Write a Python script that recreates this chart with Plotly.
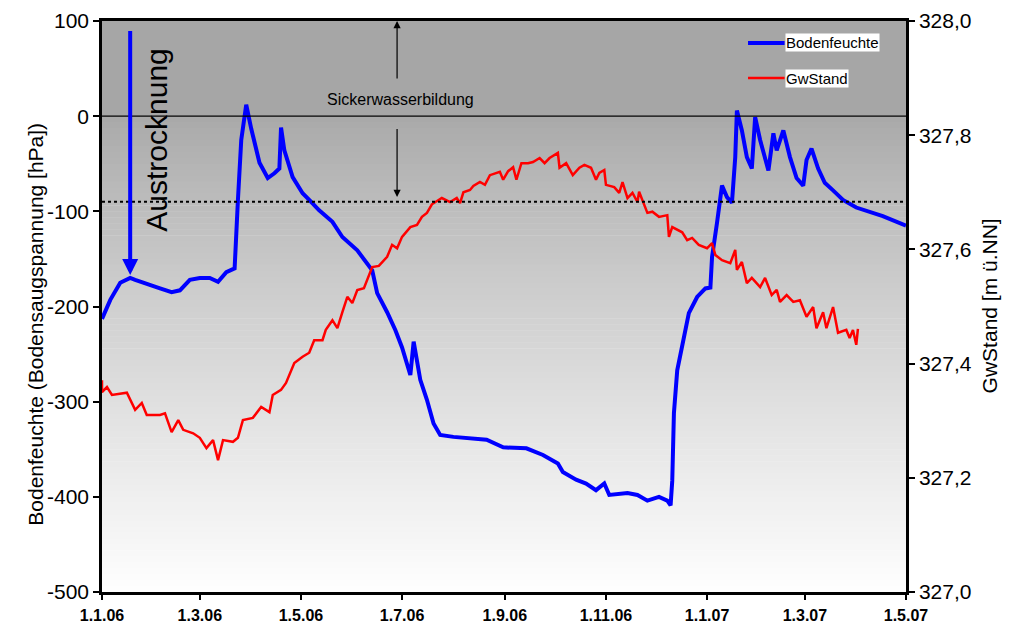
import datetime as dt
import plotly.graph_objects as go

# --- measurement series -------------------------------------------------
START = dt.date(2006, 1, 1)

# Bodenfeuchte (Bodensaugspannung, hPa) – days since 1.1.2006
boden_days = [0, 5, 11, 17, 20, 23, 29, 35, 42, 47, 53, 59, 65, 70, 75, 80, 82, 84.5,
              87.5, 90.5, 95, 100, 104, 107, 108, 110.4, 115, 121, 125.5, 131.5, 139,
              145, 154, 160.5, 163, 166.5, 172.5, 177, 181.5, 186, 188, 192, 196, 200,
              204, 212, 224, 232, 242, 248, 256, 266, 275, 278, 286.5, 292.5, 298.5,
              303.5, 306.5, 317, 323, 329, 336.5, 341.5, 343, 344.5, 345.5, 347.5,
              350.5, 354.5, 359, 364, 367, 368.5, 371.5, 374.5, 377.5, 380.5, 382.5,
              383.5, 386, 389, 392, 394, 397, 402, 405, 407, 411, 415, 419, 423, 425,
              428, 432, 436, 441, 447, 455.5, 463, 471, 485]
boden_hpa = [-213, -193, -175, -170, -172, -174, -178, -181, -185, -183, -172, -170,
             -170, -174, -164, -160, -88, -25, 12, -13, -49, -65, -60, -55, -12, -36,
             -64, -81, -88, -99, -111, -127, -141, -155, -162, -186, -206, -225, -243,
             -272, -237, -277, -298, -323, -335, -337, -339, -340, -348, -348, -349,
             -356, -365, -374, -382, -386, -393, -386, -398, -396, -398, -404, -400,
             -404, -409, -383, -312, -267, -239, -207, -190, -181, -180, -148, -112,
             -73, -85, -91, -43, 6, -15, -43, -55, -1, -25, -57, -18, -36, -15, -43,
             -65, -73, -46, -34, -55, -70, -78, -88, -96, -101, -105, -115]

# Grundwasserstand (m ü.NN) – days since 1.1.2006
gw_days = [0, 0.6, 3.6, 6.6, 15, 20, 24, 27, 35, 38, 42, 46, 49, 55, 59, 63, 67, 70,
           73, 79, 82, 85, 91, 96.5, 101, 103, 108.5, 111.5, 116.5, 121, 125.5, 128.5,
           133, 135.5, 139, 142, 145, 148.5, 151, 154.5, 158.5, 160.5, 163.5, 167.5,
           172, 175.5, 178.5, 181.5, 186, 190.5, 193, 196.5, 199.5, 205, 210, 214, 216,
           218, 222, 224, 228, 231, 234, 240, 242, 245, 248, 250, 253, 257, 260, 264,
           267, 270, 275, 276, 280.5, 284, 288, 291, 295.5, 298.5, 300.5, 303.5, 304.5,
           309.5, 312.5, 314.5, 317.5, 320.5, 323.5, 324.5, 329, 332.5, 336.5, 341,
           342.5, 344.5, 350, 353, 356.5, 360.5, 365, 368.5, 370, 374.5, 379, 382,
           383.5, 386.5, 389, 392.5, 397, 400, 404, 407, 409, 413, 417, 421, 425, 429,
           431, 435, 437, 441, 444, 449, 451, 453, 455.5, 456]
gw_stand = [327.371, 327.350, 327.359, 327.345, 327.349, 327.319, 327.331, 327.310,
            327.310, 327.313, 327.280, 327.301, 327.284, 327.278, 327.270, 327.252,
            327.266, 327.231, 327.266, 327.263, 327.270, 327.301, 327.305, 327.324,
            327.315, 327.345, 327.354, 327.366, 327.401, 327.412, 327.419, 327.441,
            327.441, 327.459, 327.476, 327.462, 327.490, 327.517, 327.506, 327.529,
            327.532, 327.546, 327.569, 327.571, 327.587, 327.608, 327.602, 327.622,
            327.639, 327.643, 327.657, 327.664, 327.679, 327.690, 327.683, 327.690,
            327.681, 327.700, 327.704, 327.711, 327.718, 327.713, 327.730, 327.736,
            327.722, 327.737, 327.744, 327.722, 327.751, 327.751, 327.753, 327.760,
            327.751, 327.760, 327.769, 327.743, 327.751, 327.730, 327.743, 327.748,
            327.743, 327.722, 327.734, 327.739, 327.713, 327.709, 327.699, 327.718,
            327.690, 327.699, 327.683, 327.701, 327.664, 327.666, 327.657, 327.660,
            327.622, 327.639, 327.630, 327.616, 327.620, 327.608, 327.602, 327.611,
            327.590, 327.581, 327.576, 327.599, 327.564, 327.578, 327.541, 327.550,
            327.534, 327.550, 327.520, 327.529, 327.508, 327.520, 327.508, 327.511,
            327.482, 327.499, 327.462, 327.490, 327.462, 327.499, 327.454, 327.459,
            327.445, 327.459, 327.433, 327.461]

# axis ticks
x_tickdates = ["2006-01-01", "2006-03-01", "2006-05-01", "2006-07-01", "2006-09-01",
               "2006-11-01", "2007-01-01", "2007-03-01", "2007-05-01"]
x_ticklabels = ["1.1.06", "1.3.06", "1.5.06", "1.7.06", "1.9.06", "1.11.06",
                "1.1.07", "1.3.07", "1.5.07"]
y_tickvals = [100, 0, -100, -200, -300, -400, -500]
y_ticklabels = ["100", "0", "-100", "-200", "-300", "-400", "-500"]
y2_tickvals = [328.0, 327.8, 327.6, 327.4, 327.2, 327.0]
y2_ticklabels = ["328,0", "327,8", "327,6", "327,4", "327,2", "327,0"]

# thresholds (hPa)
SICKER_GRENZE = 0
FELDKAPAZITAET = -90


def to_dates(days):
    return [START + dt.timedelta(days=float(d)) for d in days]


boden_x = to_dates(boden_days)
gw_x = to_dates(gw_days)

FONT = "Arial, Liberation Sans, sans-serif"

fig = go.Figure()
fig.add_trace(go.Scatter(x=boden_x, y=boden_hpa, mode="lines", name="Bodenfeuchte",
                         line=dict(color="#0000ff", width=4), yaxis="y"))
fig.add_trace(go.Scatter(x=gw_x, y=gw_stand, mode="lines", name="GwStand",
                         line=dict(color="#ff0000", width=2.5), yaxis="y2"))

# background: flat grey band above 0 hPa, grey-to-white gradient below
shapes = [dict(type="rect", xref="paper", yref="y", x0=0, x1=1, y0=0, y1=100,
               fillcolor="rgb(166,166,166)", line=dict(width=0), layer="below")]
n = 80
for i in range(n):
    top = 0 - 500 * i / n
    bot = 0 - 500 * (i + 1) / n - 0.5
    t = (i + 0.5) / n
    g = int(round(168 + (254 - 168) * t ** 0.85))
    shapes.append(dict(type="rect", xref="paper", yref="y", x0=0, x1=1, y0=max(bot, -500),
                       y1=top, fillcolor=f"rgb({g},{g},{g})", line=dict(width=0),
                       layer="below"))
# reference lines
shapes.append(dict(type="line", xref="paper", yref="y", x0=0, x1=1,
                   y0=SICKER_GRENZE, y1=SICKER_GRENZE, line=dict(color="black", width=1.2)))
shapes.append(dict(type="line", xref="paper", yref="y", x0=0, x1=1,
                   y0=FELDKAPAZITAET, y1=FELDKAPAZITAET,
                   line=dict(color="black", width=2, dash="dot")))
# legend samples
shapes.append(dict(type="line", xref="paper", yref="paper", x0=0.8035, x1=0.849,
                   y0=0.9615, y1=0.9615, line=dict(color="#0000ff", width=4)))
shapes.append(dict(type="line", xref="paper", yref="paper", x0=0.8035, x1=0.849,
                   y0=0.900, y1=0.900, line=dict(color="#ff0000", width=2.5)))

annotations = [
    dict(text="Bodenfeuchte", xref="paper", yref="paper", x=0.849, y=0.9615,
         xanchor="left", yanchor="middle", showarrow=False, bgcolor="white",
         borderpad=0, font=dict(family=FONT, size=15, color="black")),
    dict(text="GwStand", xref="paper", yref="paper", x=0.849, y=0.900,
         xanchor="left", yanchor="middle", showarrow=False, bgcolor="white",
         borderpad=0, font=dict(family=FONT, size=15, color="black")),
    dict(text="Sickerwasserbildung", xref="x", yref="y", x="2006-06-30", y=18,
         showarrow=False, font=dict(family=FONT, size=16, color="black")),
    dict(text="", xref="x", yref="y", x="2006-06-28", y=100, ax="2006-06-28", ay=38,
         axref="x", ayref="y", showarrow=True, arrowhead=2, arrowsize=1.2,
         arrowwidth=1.2, arrowcolor="black"),
    dict(text="", xref="x", yref="y", x="2006-06-28", y=-85, ax="2006-06-28", ay=-12,
         axref="x", ayref="y", showarrow=True, arrowhead=2, arrowsize=1.2,
         arrowwidth=1.2, arrowcolor="black"),
    dict(text="", xref="x", yref="y", x="2006-01-18", y=-167, ax="2006-01-18", ay=91,
         axref="x", ayref="y", showarrow=True, arrowhead=2, arrowsize=0.8,
         arrowwidth=4, arrowcolor="#0000ff"),
    dict(text="Austrocknung", xref="x", yref="y", x="2006-02-03", y=-25,
         textangle=-90, showarrow=False, font=dict(family=FONT, size=30, color="black")),
    dict(text="Bodenfeuchte (Bodensaugspannung [hPa])", xref="paper", yref="paper",
         x=-0.0995, y=0.469, textangle=-90, showarrow=False,
         font=dict(family=FONT, size=21, color="black")),
    dict(text="GwStand [m ü.NN]", xref="paper", yref="paper", x=1.1206, y=0.501,
         textangle=-90, showarrow=False, font=dict(family=FONT, size=21, color="black")),
]

fig.update_layout(
    width=1020, height=626,
    margin=dict(l=102, r=114, t=21, b=34, autoexpand=False),
    paper_bgcolor="white", plot_bgcolor="white",
    showlegend=False,
    shapes=shapes, annotations=annotations,
    font=dict(family=FONT, color="black"),
    xaxis=dict(type="date", range=["2006-01-01", "2007-05-01"],
               tickvals=x_tickdates, ticktext=x_ticklabels, automargin=False,
               tickfont=dict(family=FONT, size=16, color="black", weight="bold"),
               ticklabelstandoff=2,
               showgrid=False, zeroline=False, showline=True, linecolor="black",
               linewidth=2.5, mirror=True, ticks="outside", ticklen=5, tickwidth=2,
               tickcolor="black"),
    yaxis=dict(range=[-500, 100], tickvals=y_tickvals, ticktext=y_ticklabels,
               automargin=False,
               tickfont=dict(family=FONT, size=21, color="black"),
               showgrid=False, zeroline=False, showline=True, linecolor="black",
               linewidth=2.5, ticks="outside", ticklen=6, tickwidth=2,
               tickcolor="black"),
    yaxis2=dict(range=[327.0, 328.0], tickvals=y2_tickvals, ticktext=y2_ticklabels,
                overlaying="y", side="right", automargin=False,
                tickfont=dict(family=FONT, size=21, color="black"),
                showgrid=False, zeroline=False, showline=True, linecolor="black",
                linewidth=2.5, ticks="outside", ticklen=6, tickwidth=2,
                tickcolor="black"),
)

fig.write_html("out.html")
